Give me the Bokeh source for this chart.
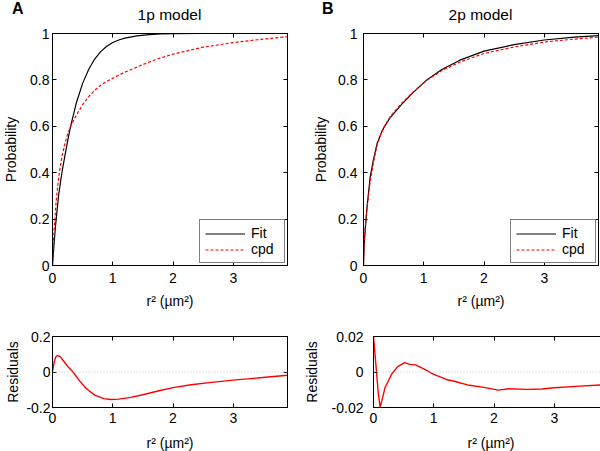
from bokeh.embed import file_html
from bokeh.resources import INLINE
from bokeh.layouts import column, row
from bokeh.models import (Div, FixedTicker, Legend, LegendItem, LinearAxis,
                          Range1d, Span)
from bokeh.plotting import figure

FONT = "Liberation Sans"

# ---------------- data ----------------
panel_letters = ["A", "B"]
panel_titles = ["1p model", "2p model"]

# Panel A: 1p model
fit1_x = [0, 0.025, 0.05, 0.1, 0.15, 0.2, 0.25, 0.3, 0.4, 0.5, 0.6, 0.7, 0.8,
          0.9, 1.0, 1.1, 1.2, 1.4, 1.6, 1.8, 2.0, 2.5]
fit1_y = [0, 0.09, 0.17, 0.30, 0.39, 0.465, 0.535, 0.60, 0.705, 0.785, 0.845,
          0.89, 0.922, 0.945, 0.961, 0.972, 0.98, 0.99, 0.995, 0.998, 0.999, 1.0]
cpd1_x = [0, 0.01, 0.03, 0.06, 0.1, 0.15, 0.2, 0.25, 0.3, 0.4, 0.5, 0.6, 0.7,
          0.8, 0.9, 1.0, 1.2, 1.5, 1.75, 2.0, 2.5, 3.0, 3.5, 3.9]
cpd1_y = [0, 0.08, 0.165, 0.275, 0.375, 0.46, 0.52, 0.565, 0.60, 0.65, 0.693,
          0.728, 0.755, 0.777, 0.793, 0.807, 0.833, 0.866, 0.891, 0.911, 0.941,
          0.961, 0.976, 0.986]
res1_x = [0, 0.03, 0.06, 0.09, 0.13, 0.2, 0.27, 0.34, 0.45, 0.55, 0.7, 0.85,
          0.97, 1.1, 1.3, 1.5, 1.75, 2.0, 2.3, 2.6, 3.0, 3.4, 3.9]
res1_y = [0, 0.06, 0.088, 0.093, 0.085, 0.055, 0.025, 0.0, -0.05, -0.09, -0.13,
          -0.15, -0.155, -0.153, -0.143, -0.128, -0.107, -0.088, -0.072, -0.06,
          -0.046, -0.034, -0.018]

# Panel B: 2p model
fit2_x = [0, 0.01, 0.03, 0.06, 0.11, 0.16, 0.225, 0.3, 0.35, 0.45, 0.64, 0.8,
          1.05, 1.3, 1.6, 2.0, 2.5, 3.0, 3.5, 3.9]
fit2_y = [0, 0.08, 0.16, 0.255, 0.38, 0.45, 0.525, 0.575, 0.60, 0.64, 0.697,
          0.74, 0.80, 0.845, 0.885, 0.924, 0.952, 0.972, 0.984, 0.991]
cpd2_x = [0, 0.01, 0.03, 0.06, 0.11, 0.16, 0.225, 0.3, 0.35, 0.45, 0.64, 0.8,
          1.05, 1.3, 1.6, 2.0, 2.5, 3.0, 3.5, 3.9]
cpd2_y = [0, 0.095, 0.169, 0.253, 0.36, 0.437, 0.519, 0.574, 0.601, 0.644,
          0.701, 0.742, 0.798, 0.84, 0.877, 0.914, 0.942, 0.963, 0.976, 0.984]
res2_x = [0, 0.08, 0.11, 0.14, 0.19, 0.30, 0.40, 0.52, 0.60, 0.70, 0.85, 1.0,
          1.21, 1.37, 1.59, 1.81, 2.07, 2.25, 2.53, 2.80, 3.0, 3.35, 3.9]
res2_y = [0.02, -0.012, -0.0198, -0.016, -0.0089, -0.0013, 0.003, 0.0053,
          0.0043, 0.004, 0.0015, -0.0013, -0.0042, -0.0055, -0.0075, -0.0085,
          -0.0102, -0.0094, -0.0098, -0.0096, -0.0089, -0.0081, -0.007]

x_ticks = [0, 1, 2, 3]
x_tick_labels = ["0", "1", "2", "3"]
prob_ticks = [0, 0.2, 0.4, 0.6, 0.8, 1]
prob_tick_labels = ["0", "0.2", "0.4", "0.6", "0.8", "1"]
res1_ticks = [-0.2, 0, 0.2]
res1_tick_labels = ["-0.2", "0", "0.2"]
res2_ticks = [-0.02, 0, 0.02]
res2_tick_labels = ["-0.02", "0", "0.02"]

x_max = 3.9
x_label = "r\u00b2 (\u00b5m\u00b2)"


def make_fig(fh, bl, br, bt, bb, yr):
    p = figure(frame_width=235, frame_height=fh,
               min_border_left=bl, min_border_right=br,
               min_border_top=bt, min_border_bottom=bb,
               x_range=Range1d(0, x_max), y_range=Range1d(*yr),
               output_backend="svg", toolbar_location=None)
    p.xgrid.visible = False
    p.ygrid.visible = False
    p.outline_line_color = "black"
    p.outline_line_alpha = 1
    p.background_fill_color = "white"
    p.border_fill_color = "white"
    return p


def style_axis(ax, ticks, labels, tick_standoff, label, label_standoff):
    ax.ticker = FixedTicker(ticks=ticks)
    ax.major_label_overrides = dict(zip(ticks, labels))
    ax.major_tick_in = 4
    ax.major_tick_out = 0
    ax.minor_tick_line_color = None
    ax.axis_line_color = "black"
    ax.major_tick_line_color = "black"
    ax.major_label_standoff = tick_standoff
    ax.major_label_text_font = FONT
    ax.major_label_text_font_size = "14px"
    ax.major_label_text_color = "black"
    ax.axis_label = label
    ax.axis_label_text_font = FONT
    ax.axis_label_text_font_size = "14px"
    ax.axis_label_text_font_style = "normal"
    ax.axis_label_text_color = "black"
    ax.axis_label_standoff = label_standoff


def mirror(p, side, ticks):
    # tick marks only on the opposite (box) side, as in the original
    ax = LinearAxis(ticker=FixedTicker(ticks=ticks),
                    major_label_text_color=None,
                    major_label_text_font_size="1px", major_label_standoff=0,
                    major_tick_in=4, major_tick_out=0,
                    minor_tick_line_color=None, axis_line_color="black",
                    major_tick_line_color="black")
    p.add_layout(ax, side)


def top_panel(bl, br, fit_x, fit_y, cpd_x, cpd_y, tick_standoff, lab_standoff):
    p = make_fig(232, bl, br, 10, 51, (0, 1))
    r_fit = p.line(fit_x, fit_y, line_color="black", line_width=1.2)
    r_cpd = p.line(cpd_x, cpd_y, line_color="#ff0000", line_width=1.2,
                   line_dash="3 2")
    style_axis(p.xaxis[0], x_ticks, x_tick_labels, 7, x_label, 7)
    style_axis(p.yaxis[0], prob_ticks, prob_tick_labels, tick_standoff,
               "Probability", lab_standoff)
    mirror(p, "right", prob_ticks)
    mirror(p, "above", x_ticks)
    legend = Legend(items=[LegendItem(label="Fit", renderers=[r_fit]),
                           LegendItem(label="cpd", renderers=[r_cpd])],
                    location="bottom_right", margin=2, padding=5, spacing=0,
                    label_height=15, glyph_height=15, glyph_width=40,
                    label_width=28, label_standoff=6,
                    border_line_color="black", border_line_width=1,
                    background_fill_alpha=1,
                    label_text_font=FONT, label_text_font_size="14px",
                    label_text_color="black")
    p.add_layout(legend)
    return p


def bottom_panel(bl, br, rx, ry, yr, ticks, labels, tick_standoff, lab_standoff):
    p = make_fig(71, bl, br, 20, 44, yr)
    p.add_layout(Span(location=0, dimension="width", line_color="#c8c8c8",
                      line_dash="1 2", line_width=1))
    p.line(rx, ry, line_color="#ff0000", line_width=1.4)
    style_axis(p.xaxis[0], x_ticks, x_tick_labels, 5, x_label, 9)
    style_axis(p.yaxis[0], ticks, labels, tick_standoff, "Residuals",
               lab_standoff)
    mirror(p, "right", ticks)
    mirror(p, "above", x_ticks)
    return p


# header with panel letters and panel titles (real text)
span_style = ("position:absolute;white-space:nowrap;color:#000;"
              "font-family:'Liberation Sans',Arial,sans-serif;")
header_html = (
    '<div style="position:relative;width:600px;height:23px;">'
    f'<span style="{span_style}left:12px;top:1px;font-size:16px;'
    f'font-weight:bold;line-height:16px;">{panel_letters[0]}</span>'
    f'<span style="{span_style}left:52px;width:235px;text-align:center;'
    f'top:7px;font-size:15.5px;line-height:15px;">{panel_titles[0]}</span>'
    f'<span style="{span_style}left:322px;top:1px;font-size:16px;'
    f'font-weight:bold;line-height:16px;">{panel_letters[1]}</span>'
    f'<span style="{span_style}left:363px;width:235px;text-align:center;'
    f'top:7px;font-size:15.5px;line-height:15px;">{panel_titles[1]}</span>'
    '</div>'
)
header = Div(text=header_html, width=600, height=23, margin=0)

pA = top_panel(52, 13, fit1_x, fit1_y, cpd1_x, cpd1_y, 3, 8)
pB = top_panel(63, 2, fit2_x, fit2_y, cpd2_x, cpd2_y, 6, 6)
rA = bottom_panel(52, 13, res1_x, res1_y, (-0.2, 0.2), res1_ticks,
                  res1_tick_labels, 2, 2)
rB = bottom_panel(63, 2, res2_x, res2_y, (-0.02, 0.02), res2_ticks,
                  res2_tick_labels, 10, 9)

layout = column(header, row(pA, pB), row(rA, rB))

with open("out.html", "w") as f:
    f.write(file_html(layout, INLINE))
